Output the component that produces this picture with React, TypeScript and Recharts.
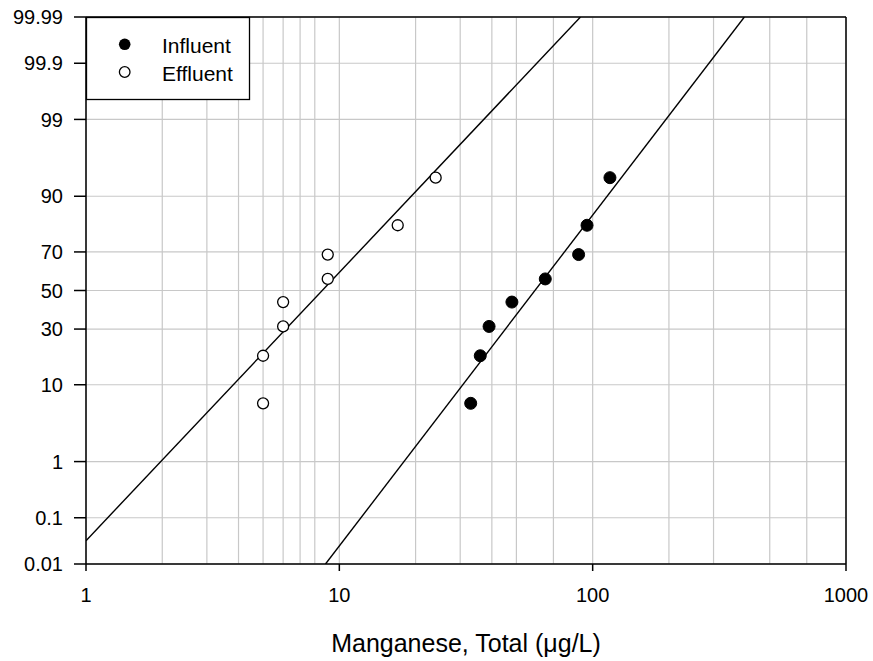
import React from "react";
import {
  ComposedChart,
  Scatter,
  XAxis,
  YAxis,
  CartesianGrid,
  ReferenceLine,
} from "recharts";

// ---- data ----
const plottingPositions = [6.25, 18.75, 31.25, 43.75, 56.25, 68.75, 81.25, 93.75];
const influentValues = [33, 36, 39, 48, 65, 88, 95, 117];
const effluentValues = [5, 5, 6, 6, 9, 9, 17, 24];

// fitted lines (endpoints: value, cumulative percent)
const influentFitX = [8.82, 397];
const influentFitP = [0.01, 99.99];
const effluentFitX = [1, 89.5];
const effluentFitP = [0.0334, 99.99];

const xTicks = [1, 10, 100, 1000];
const xGridValues = [
  1, 2, 3, 4, 5, 6, 7, 8, 9, 10, 20, 30, 40, 50, 60, 70, 80, 90, 100, 200, 300,
  400, 500, 600, 700, 800, 900, 1000,
];
const yTickPercents = [0.01, 0.1, 1, 10, 30, 50, 70, 90, 99, 99.9, 99.99];
const yTickLabels = ["0.01", "0.1", "1", "10", "30", "50", "70", "90", "99", "99.9", "99.99"];

// ---- normal probability scale transform (inverse normal CDF, Acklam) ----
function probit(pPercent: number): number {
  const p = pPercent / 100;
  const a = [-3.969683028665376e1, 2.209460984245205e2, -2.759285104469687e2, 1.38357751867269e2, -3.066479806614716e1, 2.506628277459239];
  const b = [-5.447609879822406e1, 1.615858368580409e2, -1.556989798598866e2, 6.680131188771972e1, -1.328068155288572e1];
  const c = [-7.784894002430293e-3, -3.223964580411365e-1, -2.400758277161838, -2.549732539343734, 4.374664141464968, 2.938163982698783];
  const d = [7.784695709041462e-3, 3.224671290700398e-1, 2.445134137142996, 3.754408661907416];
  const pLow = 0.02425;
  const pHigh = 1 - pLow;
  let q: number, r: number;
  if (p < pLow) {
    q = Math.sqrt(-2 * Math.log(p));
    return (((((c[0] * q + c[1]) * q + c[2]) * q + c[3]) * q + c[4]) * q + c[5]) /
      ((((d[0] * q + d[1]) * q + d[2]) * q + d[3]) * q + 1);
  } else if (p <= pHigh) {
    q = p - 0.5;
    r = q * q;
    return ((((((a[0] * r + a[1]) * r + a[2]) * r + a[3]) * r + a[4]) * r + a[5]) * q) /
      (((((b[0] * r + b[1]) * r + b[2]) * r + b[3]) * r + b[4]) * r + 1);
  } else {
    q = Math.sqrt(-2 * Math.log(1 - p));
    return -(((((c[0] * q + c[1]) * q + c[2]) * q + c[3]) * q + c[4]) * q + c[5]) /
      ((((d[0] * q + d[1]) * q + d[2]) * q + d[3]) * q + 1);
  }
}

const zMin = probit(yTickPercents[0]);
const zMax = probit(yTickPercents[yTickPercents.length - 1]);
const yTicksZ = yTickPercents.map(probit);

const influentData = influentValues.map((x, i) => ({ x, z: probit(plottingPositions[i]) }));
const effluentData = effluentValues.map((x, i) => ({ x, z: probit(plottingPositions[i]) }));
const influentFit = influentFitX.map((x, i) => ({ x, z: probit(influentFitP[i]) }));
const effluentFit = effluentFitX.map((x, i) => ({ x, z: probit(effluentFitP[i]) }));

const FONT = "Arial, 'Liberation Sans', Helvetica, sans-serif";

const yLabel = (v: number) => {
  let best = 0;
  yTicksZ.forEach((z, i) => {
    if (Math.abs(z - v) < Math.abs(yTicksZ[best] - v)) best = i;
  });
  return yTickLabels[best];
};

const FilledDot = (props: any) => (
  <circle cx={props.cx} cy={props.cy} r={6} fill="#000" stroke="#000" strokeWidth={1} />
);
const OpenDot = (props: any) => (
  <circle cx={props.cx} cy={props.cy} r={5.5} fill="#fff" stroke="#000" strokeWidth={1.3} />
);
const NoDot = () => <g />;

export default function App() {
  return (
    <div style={{ position: "absolute", left: 0, top: 0, width: 873, height: 661, fontFamily: FONT }}>
      <ComposedChart
        width={873}
        height={661}
        margin={{ top: 17, right: 27, left: 0, bottom: 0 }}
        style={{ fontFamily: FONT }}
      >
        <CartesianGrid xAxisId="grid" stroke="#c8c8c8" strokeWidth={1.2} />
        <XAxis
          xAxisId="grid"
          type="number"
          dataKey="x"
          scale="log"
          domain={[1, 1000]}
          ticks={xGridValues}
          allowDataOverflow
          hide
        />
        <XAxis
          type="number"
          dataKey="x"
          scale="log"
          domain={[1, 1000]}
          ticks={xTicks}
          allowDataOverflow
          height={97}
          tickSize={7}
          tickMargin={17}
          stroke="#000"
          strokeWidth={1.5}
          tick={{ fill: "#000", fontSize: 20, fontFamily: FONT }}
          label={{
            value: "Manganese, Total (μg/L)",
            position: "insideBottom",
            offset: 9,
            fill: "#000",
            fontSize: 25,
            fontFamily: FONT,
          }}
        />
        <YAxis
          type="number"
          dataKey="z"
          domain={[zMin, zMax]}
          ticks={yTicksZ}
          allowDataOverflow
          width={86}
          tickSize={12}
          tickMargin={11}
          tickFormatter={yLabel}
          stroke="#000"
          strokeWidth={1.5}
          tick={{ fill: "#000", fontSize: 20, fontFamily: FONT }}
        />
        <ReferenceLine y={zMax} stroke="#000" strokeWidth={1.5} />
        <ReferenceLine x={1000} stroke="#000" strokeWidth={1.5} />
        <Scatter
          data={effluentFit}
          line={{ stroke: "#000", strokeWidth: 1.4 }}
          shape={NoDot}
          isAnimationActive={false}
        />
        <Scatter
          data={influentFit}
          line={{ stroke: "#000", strokeWidth: 1.4 }}
          shape={NoDot}
          isAnimationActive={false}
        />
        <Scatter data={influentData} shape={FilledDot} isAnimationActive={false} />
        <Scatter data={effluentData} shape={OpenDot} isAnimationActive={false} />
      </ComposedChart>
      <svg
        width={164}
        height={83}
        style={{ position: "absolute", left: 86, top: 17, overflow: "visible" }}
      >
        <rect x={0.5} y={0.5} width={163} height={82} fill="#fff" stroke="#000" strokeWidth={1.3} />
        <circle cx={38.7} cy={27.3} r={5.8} fill="#000" />
        <text x={76} y={36} fontSize={21} fontFamily={FONT} fill="#000">Influent</text>
        <circle cx={38.7} cy={55} r={5.3} fill="#fff" stroke="#000" strokeWidth={1.3} />
        <text x={76} y={63.5} fontSize={21} fontFamily={FONT} fill="#000">Effluent</text>
      </svg>
    </div>
  );
}
